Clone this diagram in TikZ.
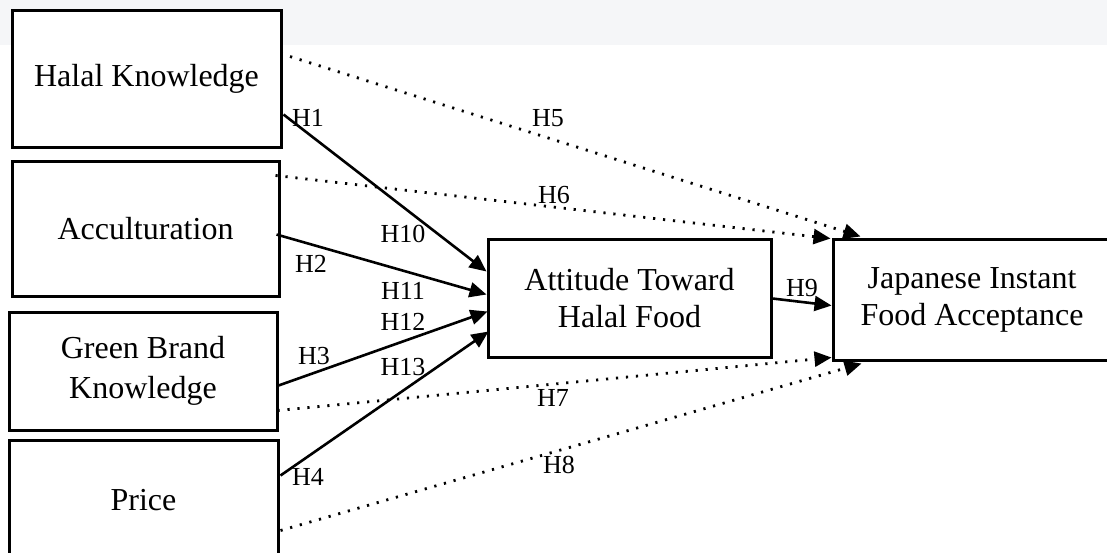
\documentclass[tikz,border=0pt]{standalone}
\usepackage{fontspec}
\setmainfont{Liberation Serif}
\usetikzlibrary{arrows.meta,calc}
\definecolor{bandgray}{HTML}{F5F6F8}
\begin{document}
\begin{tikzpicture}[x=0.5pt,y=-0.5pt,
  box/.style={draw,line width=1.5pt,fill=white,align=center,inner sep=0pt,
    font=\fontsize{16}{18.5}\selectfont},
  hyp/.style={font=\fontsize{13}{15}\selectfont,inner sep=0pt},
  solidarrow/.style={line width=1.3pt,-{Triangle[length=8.5pt,width=7.5pt]}},
  dotarrow/.style={line width=1.4pt,dash pattern=on 1.1pt off 3.9pt,-{Triangle[length=8.5pt,width=7.5pt]}}]
\useasboundingbox (0,0) rectangle (1107,552);
\fill[bandgray] (0,0) rectangle (1107,45);

% boxes
\node[box,minimum width=134.5pt,minimum height=68.5pt] (hk) at (146.5,78.5) {Halal Knowledge};
\node[box,minimum width=133.5pt,minimum height=67.5pt] (ac) at (145.5,228.5) {Acculturation};
\node[box,minimum width=134pt,minimum height=59pt,font=\fontsize{16}{20}\selectfont] (gb) at (143,371) {Green Brand\\Knowledge};
\node[box,minimum width=134.5pt,minimum height=60pt] (pr) at (143.5,500) {Price};
\node[box,minimum width=141.5pt,minimum height=59pt] (at) at (629.5,298) {Attitude Toward\\Halal Food};
\node[box,minimum width=139pt,minimum height=60.5pt] (jp) at (972,299.5) {Japanese Instant\\Food Acceptance};

% dotted connectors
\draw[dotarrow] ($(hk.north east)+(-2,45)$) -- ($(jp.north west)+(29,-1)$);
\draw[dotarrow] ($(ac.north east)+(-5,16)$) -- ($(jp.north west)+(-1,1)$);
\draw[dotarrow] ($(gb.north east)+(-1,100)$) -- ($(jp.south west)+(0,-4)$);
\draw[dotarrow] ($(pr.north east)+(1,92)$) -- ($(jp.south west)+(30,2)$);

% solid connectors
\draw[solidarrow] ($(hk.north east)+(1,106)$) -- ($(at.north west)+(0,34)$);
\draw[solidarrow] ($(ac.north east)+(-4,75)$) -- ($(at.north west)+(0,57)$);
\draw[solidarrow] ($(gb.north east)+(0,75)$) -- ($(at.north west)+(1,74)$);
\draw[solidarrow] ($(pr.north east)+(1,37)$) -- ($(at.north west)+(2,94)$);
\draw[solidarrow] ($(at.north east)+(0,61)$) -- ($(jp.north west)+(0,68)$);

% hypothesis labels
\node[hyp] (h1) at (308,118) {H1};
\node[hyp] (h5) at (548,118) {H5};
\node[hyp] (h6) at (554,195) {H6};
\node[hyp] (h10) at (403,234) {H10};
\node[hyp] (h2) at (311,264) {H2};
\node[hyp] (h11) at (403,291) {H11};
\node[hyp] (h12) at (403,322) {H12};
\node[hyp] (h3) at (314,356) {H3};
\node[hyp] (h13) at (403,367) {H13};
\node[hyp] (h4) at (308,477) {H4};
\node[hyp] (h7) at (553,398) {H7};
\node[hyp] (h8) at (559,465) {H8};
\node[hyp] (h9) at (802,288) {H9};
\end{tikzpicture}
\end{document}
